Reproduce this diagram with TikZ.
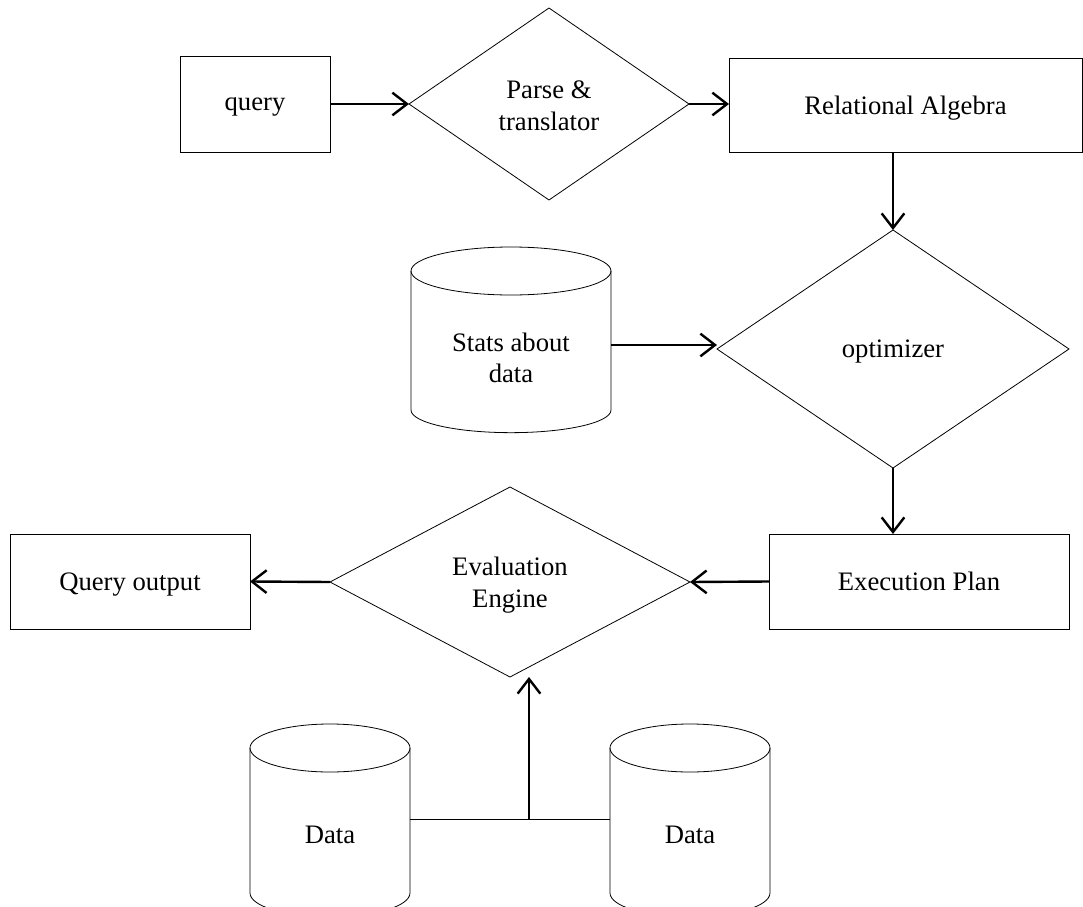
\documentclass[tikz,border=0pt]{standalone}
\usepackage{fontspec}
\setmainfont{Liberation Serif}
\usetikzlibrary{shapes.geometric,arrows.meta}
\begin{document}
\begin{tikzpicture}[x=0.75pt,y=-0.75pt,
  font=\fontsize{20}{24}\selectfont,
  thinline/.style={line width=0.6pt},
  box/.style={draw, thinline, rectangle, inner sep=0pt, outer sep=0pt, align=center, text depth=0pt},
  dia/.style={draw, thinline, diamond, inner sep=0pt, outer sep=0pt, align=center, text depth=0pt},
  arr/.style={line width=1.8pt, -{Straight Barb[length=11pt,width=17pt,line width=1.8pt]}},
  lbl/.style={align=center, inner sep=0pt}]
\useasboundingbox (0,0) rectangle (1083,907);
\clip (0,0) rectangle (1083,907);

% boxes
\node[box, minimum width=112.5pt, minimum height=72pt] (query) at (255,104) {query};
\node[box, minimum width=264.75pt, minimum height=70.5pt] (ra) at (905.5,105) {Relational Algebra};
\node[box, minimum width=225pt, minimum height=71.25pt] (exec) at (919,581.5) {Execution Plan};
\node[box, minimum width=180pt, minimum height=71.25pt] (qout) at (130,581.5) {Query output};

% diamonds
\node[dia, minimum width=210pt, minimum height=144pt] (parse) at (549,104) {\raisebox{-3pt}{Parse \&}\\\raisebox{-3pt}{translator}};
\node[dia, minimum width=264pt, minimum height=178.5pt] (opt) at (893,349) {optimizer};
\node[dia, minimum width=270pt, minimum height=142.5pt] (eval) at (510,582) {Evaluation\\Engine};

% stats cylinder
\draw[thinline] (411,271) -- (411,410) arc[start angle=180,end angle=360,x radius=75pt,y radius=17pt] -- (611,271);
\draw[thinline] (511,271) ellipse[x radius=75pt,y radius=18pt];
\node[lbl, font=\fontsize{20}{23}\selectfont] (stats) at (511,358) {Stats about\\data};
\coordinate (statsE) at (611,345);

% data cylinders
\draw[thinline] (250,748) -- (250,893) arc[start angle=180,end angle=360,x radius=60pt,y radius=18pt] -- (410,748);
\draw[thinline] (330,748) ellipse[x radius=60pt,y radius=18pt];
\node[lbl] (data1) at (330,835) {Data};
\draw[thinline] (610,748) -- (610,893) arc[start angle=180,end angle=360,x radius=60pt,y radius=18pt] -- (770,748);
\draw[thinline] (690,748) ellipse[x radius=60pt,y radius=18pt];
\node[lbl] (data2) at (690,835) {Data};
\coordinate (d1E) at (410,819);
\coordinate (d2W) at (610,819);
\coordinate (join) at (529,819);

% connectors
\draw[arr] (query.east) -- (parse.west);
\draw[arr] (parse.east) -- (parse.east -| ra.west);
\draw[arr] (ra.south -| opt.north) -- (opt.north);
\draw[arr] (statsE) -- (statsE -| opt.west);
\draw[arr] (opt.south) -- (opt.south |- exec.north);
\draw[arr] (exec.west) -- (eval.east);
\draw[arr] (eval.west) -- (qout.east);
\draw[thinline] (d1E) -- (d2W);
\draw[arr] (join) -- (join |- eval.south);
\end{tikzpicture}
\end{document}
